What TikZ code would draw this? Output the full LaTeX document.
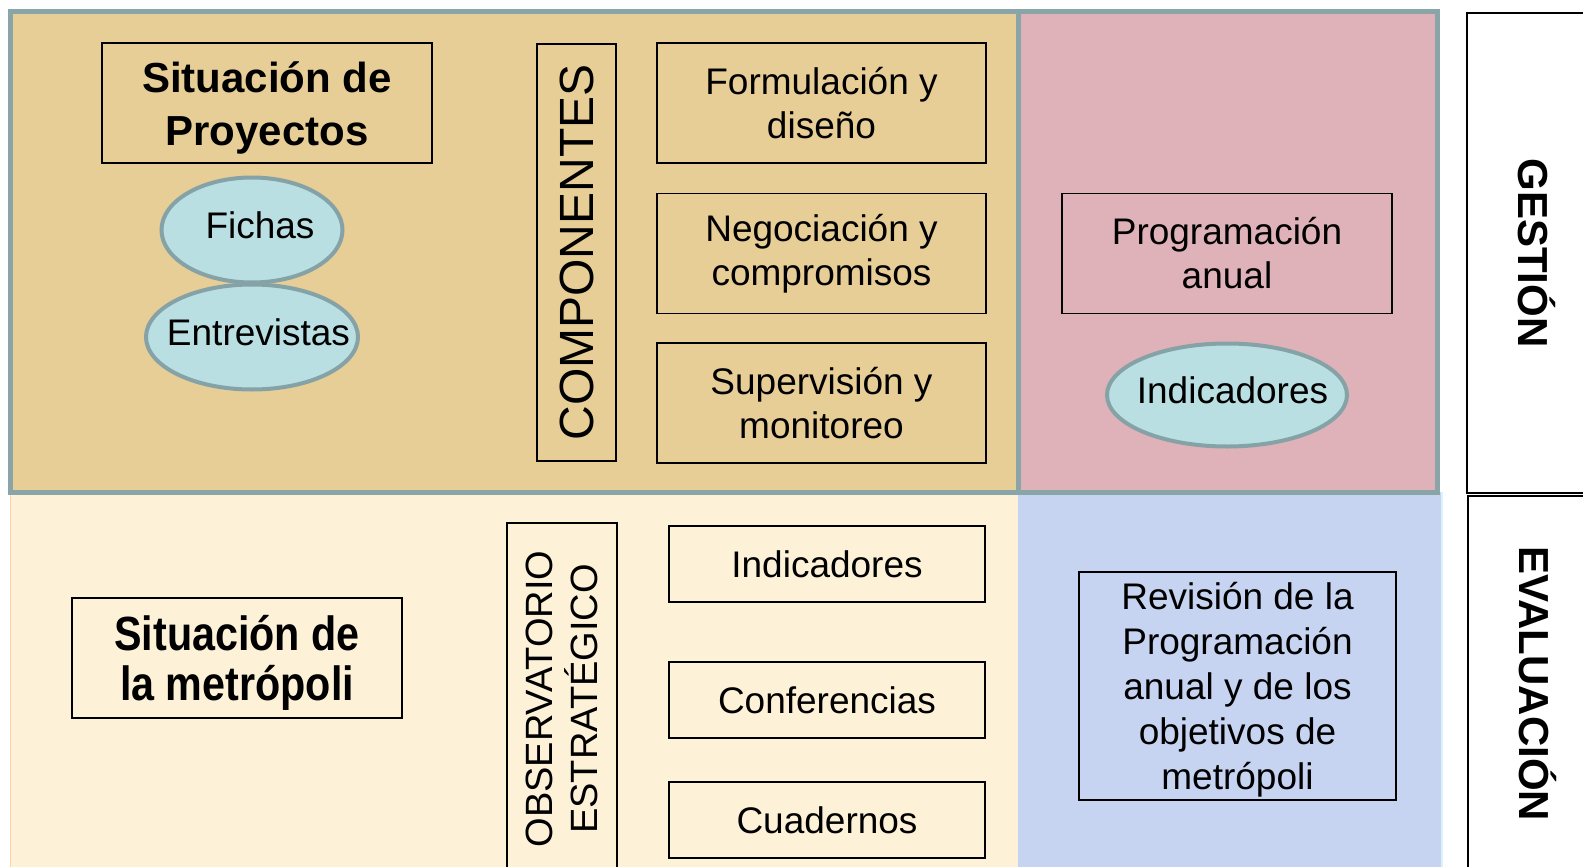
\documentclass[tikz,border=0pt]{standalone}
\usepackage{fontspec}
\setmainfont{Liberation Sans}
\newfontfamily\estrecha[FakeStretch=0.86]{Liberation Sans}
\usetikzlibrary{positioning, shapes.geometric}
\definecolor{marco}{RGB}{138,165,168}
\definecolor{papiro}{RGB}{231,205,150}
\definecolor{rosado}{RGB}{222,178,184}
\definecolor{crema}{RGB}{253,241,216}
\definecolor{celeste}{RGB}{198,212,242}
\definecolor{elipse}{RGB}{185,223,226}
\definecolor{bordeelipse}{RGB}{133,163,166}

\tikzset{
  caja/.style={draw=black, line width=1.5pt, inner sep=0pt, align=center,
               font=\fontsize{37}{44}\selectfont},
  globo/.style={ellipse, draw=bordeelipse, fill=elipse, line width=4pt, inner sep=0pt,
                font=\fontsize{37}{44}\selectfont},
  rotulo/.style={draw=black, line width=1.5pt, inner sep=0pt,
                 font=\fontsize{42}{50}\selectfont\bfseries}
}
% texto de ancho nulo, para que la elipse tome solo su tamaño mínimo
\newcommand{\textoglobo}[2][0pt]{\makebox[0pt]{\hspace*{#1}\raisebox{10pt}{#2}}}

\begin{document}
\begin{tikzpicture}[x=1pt, y=-1pt]
            \useasboundingbox (0,0) rectangle (1583,867);

            % Fondos
            \fill[crema] (10,492) rectangle (1018,867);
            \draw[orange!35, line width=1pt] (10,867) -- (10,492) (1018,492) -- (1018,867);
            \fill[celeste] (1018,492) rectangle (1442,867);
            \draw[cyan!15, line width=1.5pt] (1442,492) -- (1442,867);
            \fill[papiro] (10,12) rectangle (1018,492);
            \fill[rosado] (1018,12) rectangle (1437,492);
            \draw[marco, line width=5pt] (10,12) rectangle (1437,492);
            \draw[marco, line width=5pt] (1018,12) -- (1018,492);

            % Situación de proyectos
            \node[caja, minimum width=330, minimum height=120,
                  font=\fontsize{42}{53}\selectfont\bfseries] (proyectos) at (267,103)
                  {\rule{0pt}{40pt}Situación de\\Proyectos};
            \node[globo, minimum width=181, minimum height=105] (fichas) at (252,230)
                  {\textoglobo[16pt]{Fichas}};
            \node[globo, minimum width=212, minimum height=105] (entrevistas) at (252,337)
                  {\textoglobo[13pt]{Entrevistas}};

            % Componentes
            \node[caja, rotate=90, minimum width=417, minimum height=79,
                  font=\fontsize{48}{56}\selectfont] (componentes) at (576.5,252.5) {COMPONENTES};
            \node[caja, minimum width=329, minimum height=120] (formulacion) at (821.5,103)
                  {Formulación y\\diseño};
            \node[caja, minimum width=329, minimum height=120] (negociacion) at (821.5,253.5)
                  {Negociación y\\compromisos};
            \node[caja, minimum width=329, minimum height=120] (supervision) at (821.5,403)
                  {Supervisión y\\monitoreo};

            % Programación
            \node[caja, minimum width=330, minimum height=120] (programacion) at (1227,253.5)
                  {Programación\\anual};
            \node[globo, minimum width=240, minimum height=103] (indicadoresg) at (1227,395)
                  {\textoglobo[11pt]{Indicadores}};

            % Situación de la metrópoli
            \node[caja, minimum width=330, minimum height=120,
                  font=\fontsize{48}{50}\estrecha\bfseries] (metropoli) at (237,658)
                  {\rule{0pt}{45pt}Situación de\\la metrópoli};

            % Observatorio
            \node[caja, rotate=90, minimum width=352, minimum height=110,
                  font=\fontsize{38}{45}\selectfont] (observatorio) at (562,699)
                  {OBSERVATORIO\\ESTRATÉGICO};
            \node[caja, minimum width=316, minimum height=76] (indicadores) at (827,564) {Indicadores};
            \node[caja, minimum width=316, minimum height=76] (conferencias) at (827,700) {Conferencias};
            \node[caja, minimum width=316, minimum height=76] (cuadernos) at (827,820) {Cuadernos};

            % Revisión
            \node[caja, minimum width=317, minimum height=228,
                  font=\fontsize{37}{45}\selectfont] (revision) at (1237.5,686)
                  {\rule{0pt}{34pt}Revisión de la\\Programación\\anual y de los\\objetivos de\\metrópoli};

            % Rótulos laterales
            \node[rotulo, fill=white, rotate=-90, minimum width=480, minimum height=140] (gestion)
                  at (1537,253) {GESTIÓN};
            \node[rotulo, fill=white, rotate=-90, minimum width=376, minimum height=140] (evaluacion)
                  at (1538,684) {EVALUACIÓN};
\end{tikzpicture}
\end{document}
